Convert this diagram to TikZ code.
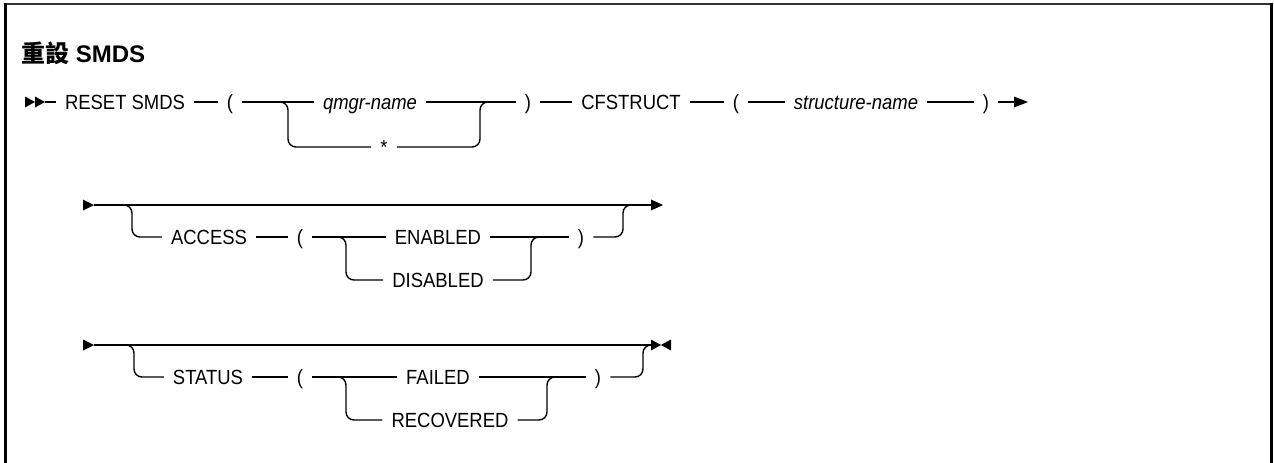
\documentclass[tikz,border=0pt]{standalone}
\usepackage{fontspec}
\setmainfont{Liberation Sans}[FakeStretch=0.9]
\newfontfamily\titlefont{Liberation Sans}
\newfontfamily\cjk{Noto Sans CJK TC}
\newcommand{\fs}{\fontsize{20.5}{24}\selectfont}
\tikzset{
  lbl/.style={inner xsep=9pt, inner ysep=0pt, text height=14.6pt, text depth=0pt, font=\fs},
  itl/.style={lbl, font=\fs\itshape},
  ln/.style={line width=1.4pt},
  br/.style={ln, rounded corners=8pt},
  tip/.style={fill=black}
}
\begin{document}
\begin{tikzpicture}[x=1pt,y=-1pt]
\useasboundingbox (0,0) rectangle (1274,463);
% frame
\draw[line width=2pt, black!80] (4,4) -- (1271,4);
\draw[line width=2.5pt] (5.5,463) -- (5.5,3);
\draw[line width=3pt] (1271.5,463) -- (1271.5,3);
% title
\node[anchor=west, inner sep=0pt, font=\fontsize{24}{28}\selectfont\titlefont\bfseries] (title) at (21,53) {{\cjk 重設} SMDS};

% ---------- row 1 ----------
\def\ya{102}\def\yb{147}
\fill[tip] (25,\ya-5.5) -- (35,\ya) -- (25,\ya+5.5) -- cycle;
\fill[tip] (35,\ya-5.5) -- (45,\ya) -- (35,\ya+5.5) -- cycle;
\coordinate (s1) at (45,\ya);
\node[lbl] (reset) at (125,\ya) {RESET SMDS};
\node[lbl] (lp1) at (230,\ya) {(};
\node[itl] (qmgr) at (370,\ya) {qmgr-name};
\node[lbl] (star) at (384,\yb) {*};
\node[lbl] (rp1) at (528,\ya) {)};
\node[lbl] (cfs) at (631,\ya) {CFSTRUCT};
\node[lbl] (lp2) at (736,\ya) {(};
\node[itl] (sname) at (856,\ya) {structure-name};
\node[lbl] (rp2) at (986,\ya) {)};
\coordinate (e1) at (1016,\ya);
\coordinate (j1a) at (288,\ya);
\coordinate (j1b) at (480,\ya);
\draw[ln] (s1) -- (reset);
\draw[ln] (reset) -- (lp1);
\draw[ln] (lp1) -- (qmgr);
\draw[ln] (qmgr) -- (rp1);
\draw[br] (lp1.east) -- (j1a) |- (star.west);
\draw[br] (star.east) -| (j1b) -- (rp1.west);
\draw[ln] (rp1) -- (cfs);
\draw[ln] (cfs) -- (lp2);
\draw[ln] (lp2) -- (sname);
\draw[ln] (sname) -- (rp2);
\draw[ln] (rp2) -- (e1);
\fill[tip] (1014,\ya-5.5) -- (1028,\ya) -- (1014,\ya+5.5) -- cycle;

% ---------- row 2 ----------
\def\ya{205}\def\yb{237}\def\yc{280}
\fill[tip] (83,\ya-5.5) -- (94,\ya) -- (83,\ya+5.5) -- cycle;
\coordinate (s2) at (94,\ya);
\coordinate (e2) at (651,\ya);
\coordinate (j2a) at (132,\ya);
\coordinate (j2b) at (623,\ya);
\node[lbl] (access) at (209,\yb) {ACCESS};
\node[lbl] (lp3) at (300,\yb) {(};
\node[lbl] (enabled) at (438,\yb) {ENABLED};
\node[lbl] (disabled) at (438,\yc) {DISABLED};
\node[lbl] (rp3) at (581,\yb) {)};
\coordinate (k2a) at (346,\yb);
\coordinate (k2b) at (531,\yb);
\draw[ln] (s2) -- (e2);
\draw[br] (s2) -- (j2a) |- (access.west);
\draw[ln] (access) -- (lp3);
\draw[ln] (lp3) -- (enabled);
\draw[ln] (enabled) -- (rp3);
\draw[br] (lp3.east) -- (k2a) |- (disabled.west);
\draw[br] (disabled.east) -| (k2b) -- (rp3.west);
\draw[br] (rp3.east) -| (j2b) -- (e2);
\fill[tip] (651,\ya-5.5) -- (663,\ya) -- (651,\ya+5.5) -- cycle;

% ---------- row 3 ----------
\def\ya{345}\def\yb{377}\def\yc{420}
\fill[tip] (83,\ya-5.5) -- (94,\ya) -- (83,\ya+5.5) -- cycle;
\coordinate (s3) at (94,\ya);
\coordinate (e3) at (651,\ya);
\coordinate (j3a) at (134,\ya);
\coordinate (j3b) at (643,\ya);
\node[lbl] (status) at (208,\yb) {STATUS};
\node[lbl] (lp4) at (300,\yb) {(};
\node[lbl] (failed) at (438,\yb) {FAILED};
\node[lbl] (recovered) at (450,\yc) {RECOVERED};
\node[lbl] (rp4) at (598,\yb) {)};
\coordinate (k3a) at (346,\yb);
\coordinate (k3b) at (547,\yb);
\draw[ln] (s3) -- (e3);
\draw[br] (s3) -- (j3a) |- (status.west);
\draw[ln] (status) -- (lp4);
\draw[ln] (lp4) -- (failed);
\draw[ln] (failed) -- (rp4);
\draw[br] (lp4.east) -- (k3a) |- (recovered.west);
\draw[br] (recovered.east) -| (k3b) -- (rp4.west);
\draw[br] (rp4.east) -| (j3b) -- (e3);
\fill[tip] (651,\ya-5.5) -- (661,\ya) -- (651,\ya+5.5) -- cycle;
\fill[tip] (671,\ya-5.5) -- (661,\ya) -- (671,\ya+5.5) -- cycle;
\end{tikzpicture}
\end{document}
